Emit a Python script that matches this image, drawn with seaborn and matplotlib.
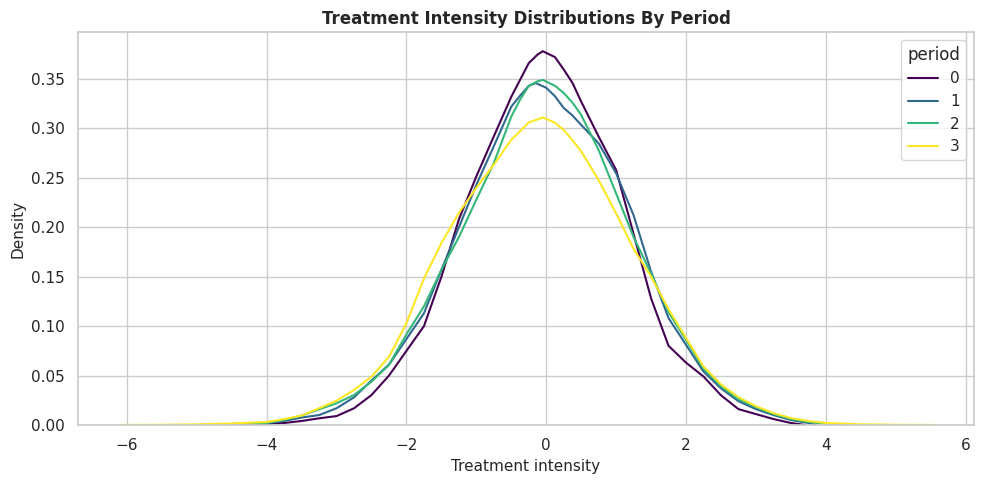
import pandas as pd
import matplotlib
matplotlib.use("Agg")
import matplotlib.pyplot as plt
import seaborn as sns

# density values, one curve per period
x_p0 = [-4.4, -4.0, -3.75, -3.5, -3.25, -3.0, -2.75, -2.5, -2.25, -2.0, -1.75, -1.5,
        -1.25, -1.0, -0.75, -0.5, -0.375, -0.25, -0.125, -0.05, 0.125, 0.25, 0.375, 0.5,
        0.75, 1.0, 1.25, 1.5, 1.75, 2.0, 2.25, 2.5, 2.75, 3.0, 3.25, 3.5, 3.7]
y_p0 = [0.0, 0.001, 0.002, 0.004, 0.0067, 0.009, 0.0169, 0.0303, 0.050, 0.075, 0.100, 0.150,
        0.208, 0.2515, 0.292, 0.332, 0.349, 0.366, 0.3746, 0.378, 0.372, 0.3595, 0.346, 0.327,
        0.2916, 0.2578, 0.193, 0.128, 0.080, 0.0630, 0.049, 0.030, 0.016, 0.011, 0.006, 0.002, 0.0]

x_p1 = [-4.6, -4.0, -3.75, -3.5, -3.25, -3.0, -2.75, -2.5, -2.25, -2.0, -1.75, -1.5,
        -1.25, -1.0, -0.75, -0.5, -0.375, -0.25, -0.15, 0.0, 0.125, 0.25, 0.375, 0.5,
        0.75, 1.0, 1.25, 1.5, 1.75, 2.0, 2.25, 2.5, 2.75, 3.0, 3.25, 3.5, 3.75, 3.85]
y_p1 = [0.0, 0.002, 0.004, 0.0075, 0.010, 0.0169, 0.028, 0.045, 0.061, 0.087, 0.113, 0.157,
        0.200, 0.243, 0.282, 0.322, 0.333, 0.343, 0.3458, 0.341, 0.3324, 0.3206, 0.313, 0.3034,
        0.2848, 0.2544, 0.212, 0.155, 0.108, 0.081, 0.054, 0.037, 0.024, 0.016, 0.010, 0.005, 0.002, 0.0]

x_p2 = [-5.0, -4.5, -4.0, -3.75, -3.5, -3.25, -3.0, -2.75, -2.5, -2.25, -2.0, -1.75,
        -1.5, -1.25, -1.0, -0.75, -0.5, -0.375, -0.25, -0.125, -0.05, 0.125, 0.25, 0.375,
        0.5, 0.75, 1.0, 1.25, 1.5, 1.75, 2.0, 2.25, 2.5, 2.75, 3.0, 3.25, 3.5, 3.75,
        4.0, 4.3]
y_p2 = [0.0, 0.001, 0.002, 0.005, 0.0095, 0.0158, 0.022, 0.0303, 0.0438, 0.061, 0.0917, 0.120,
        0.157, 0.190, 0.228, 0.265, 0.312, 0.329, 0.343, 0.3476, 0.349, 0.343, 0.3358, 0.326,
        0.3135, 0.278, 0.234, 0.190, 0.153, 0.114, 0.086, 0.057, 0.039, 0.026, 0.018, 0.011, 0.006, 0.003,
        0.001, 0.0]

x_p3 = [-6.1, -5.5, -5.0, -4.5, -4.0, -3.75, -3.5, -3.25, -3.0, -2.75, -2.5, -2.25,
        -2.0, -1.75, -1.5, -1.25, -1.0, -0.75, -0.5, -0.375, -0.25, -0.125, -0.05, 0.125,
        0.25, 0.375, 0.5, 0.75, 1.0, 1.25, 1.5, 1.75, 2.0, 2.25, 2.5, 2.75, 3.0, 3.25,
        3.5, 3.75, 4.0, 4.5, 5.0, 5.55]
y_p3 = [0.0, 0.0002, 0.0006, 0.0015, 0.003, 0.006, 0.0095, 0.0169, 0.0246, 0.0354, 0.0489, 0.069,
        0.103, 0.148, 0.184, 0.2145, 0.240, 0.2633, 0.2886, 0.297, 0.306, 0.309, 0.311, 0.3057,
        0.2983, 0.288, 0.2767, 0.2476, 0.2139, 0.178, 0.150, 0.117, 0.088, 0.059, 0.041, 0.028, 0.019, 0.012,
        0.007, 0.004, 0.002, 0.0007, 0.0002, 0.0]

periods = ["0", "1", "2", "3"]

frames = []
for period, xs, ys in zip(periods, [x_p0, x_p1, x_p2, x_p3], [y_p0, y_p1, y_p2, y_p3]):
    frames.append(pd.DataFrame({"Treatment intensity": xs, "Density": ys, "period": period}))
df = pd.concat(frames, ignore_index=True)

sns.set_theme(style="whitegrid")

cmap = matplotlib.colormaps["viridis"]
palette = {p: cmap(i / (len(periods) - 1)) for i, p in enumerate(periods)}

fig, ax = plt.subplots(figsize=(9.84, 4.84), dpi=100)
sns.lineplot(
    data=df,
    x="Treatment intensity",
    y="Density",
    hue="period",
    hue_order=periods,
    palette=palette,
    sort=False,
    estimator=None,
    linewidth=1.5,
    ax=ax
)

ax.set_xlim(-6.7, 6.12)
ax.set_ylim(0, 0.3975)
ax.set_title("Treatment Intensity Distributions By Period", fontweight="bold", fontsize=12)
ax.set_xlabel("Treatment intensity", fontsize=11)
ax.set_ylabel("Density", fontsize=11)
ax.tick_params(labelsize=11)
ax.legend(title="period", loc="upper right", fontsize=11, title_fontsize=12)

fig.subplots_adjust(left=0.0793, right=0.9898, top=0.934, bottom=0.122)
fig.savefig("out.png", dpi=100)
